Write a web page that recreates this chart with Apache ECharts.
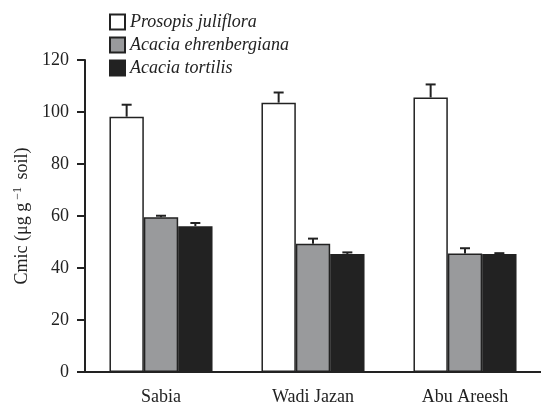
<!DOCTYPE html>
<html>
<head>
<meta charset="utf-8">
<script src="https://cdn.jsdelivr.net/npm/echarts@6/dist/echarts.min.js"></script>
<style>
  html, body { margin: 0; padding: 0; background: #fff; }
  #chart { width: 541px; height: 410px; }
</style>
</head>
<body>
<div id="chart"></div>
<script>
// Sites on the x axis
const sites = ['Sabia', 'Wadi Jazan', 'Abu Areesh'];
// Species (legend order)
const species = ['Prosopis juliflora', 'Acacia ehrenbergiana', 'Acacia tortilis'];
// Microbial biomass carbon, mean per site
const prosopisMean = [98.2, 103.6, 105.6];
const ehrenbergianaMean = [59.5, 49.3, 45.6];
const tortilisMean = [56.1, 45.4, 45.4];
// Standard errors (drawn upward only)
const prosopisErr = [4.6, 3.9, 5.0];
const ehrenbergianaErr = [0.6, 2.0, 2.0];
const tortilisErr = [1.2, 0.6, 0.3];
// Y axis ticks
const yTicks = { min: 0, max: 120, step: 20 };

const means = [prosopisMean, ehrenbergianaMean, tortilisMean];
const errs = [prosopisErr, ehrenbergianaErr, tortilisErr];
const fills = ['#ffffff', '#999a9c', '#222222'];
const ink = '#222222';
const serif = '"Liberation Serif", "DejaVu Serif", serif';
const BAR_FRAC = 0.226;

const barSeries = species.map((name, i) => ({
  name: name,
  type: 'bar',
  barWidth: (BAR_FRAC * 100) + '%',
  barGap: '0%',
  itemStyle: { color: fills[i], borderColor: ink, borderWidth: 1.5 },
  data: means[i],
  z: 2
}));

const errSeries = species.map((name, i) => ({
  type: 'custom',
  name: name + ' err',
  z: 3,
  data: means[i].map((m, k) => [k, m, errs[i][k]]),
  renderItem: function (params, api) {
    const cat = api.value(0);
    const m = api.value(1);
    const e = api.value(2);
    const band = api.size([1, 0])[0];
    const off = (i - 1) * band * BAR_FRAC;
    const base = api.coord([cat, m]);
    const top = api.coord([cat, m + e]);
    const x = base[0] + off;
    const cap = 5;
    const st = { stroke: ink, lineWidth: 2 };
    return {
      type: 'group',
      children: [
        { type: 'line', shape: { x1: x, y1: base[1], x2: x, y2: top[1] }, style: st },
        { type: 'line', shape: { x1: x - cap, y1: top[1], x2: x + cap, y2: top[1] }, style: st }
      ]
    };
  }
}));

const chart = echarts.init(document.getElementById('chart'), null, { renderer: 'canvas' });
chart.setOption({
  animation: false,
  backgroundColor: '#ffffff',
  grid: { left: 85, top: 60, right: 0, bottom: 38 },
  legend: {
    data: species,
    orient: 'vertical',
    left: 104,
    top: 8,
    itemWidth: 15,
    itemHeight: 15,
    itemGap: 5,
    icon: 'rect',
    textStyle: { fontFamily: serif, fontStyle: 'italic', fontSize: 18, color: ink, lineHeight: 18 }
  },
  xAxis: {
    type: 'category',
    data: sites,
    axisLine: { lineStyle: { color: ink, width: 2 } },
    axisTick: { show: false },
    axisLabel: { fontFamily: serif, fontSize: 18, color: ink, margin: 16 }
  },
  yAxis: {
    type: 'value',
    min: yTicks.min,
    max: yTicks.max,
    interval: yTicks.step,
    name: 'Cmic (μg g{sup|−1} soil)',
    nameLocation: 'middle',
    nameGap: 52,
    nameTextStyle: {
      fontFamily: serif, fontSize: 18, color: ink,
      rich: { sup: { fontFamily: serif, fontSize: 12, color: ink, verticalAlign: 'top', padding: [0, 3, 9, 3] } }
    },
    axisLine: { show: true, lineStyle: { color: ink, width: 2 } },
    axisTick: { show: true, length: 8, lineStyle: { color: ink, width: 2 } },
    splitLine: { show: false },
    axisLabel: { fontFamily: serif, fontSize: 18, color: ink, margin: 16 }
  },
  series: barSeries.concat(errSeries)
});
</script>
</body>
</html>
